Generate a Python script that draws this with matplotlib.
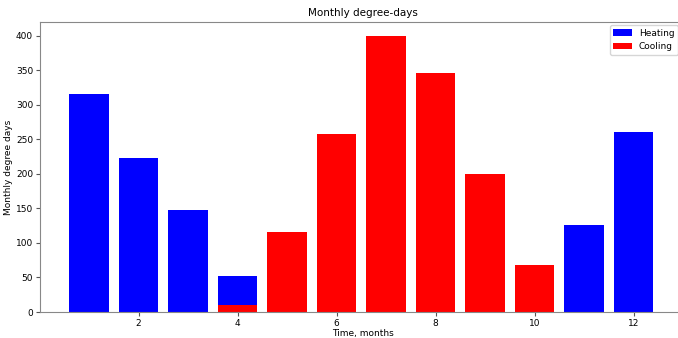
import matplotlib
matplotlib.use("Agg")
import matplotlib.pyplot as plt

months = list(range(1, 13))
heating = [316, 223, 148, 52, 0, 0, 0, 0, 0, 0, 126, 261]
cooling = [0, 0, 0, 10, 116, 258, 400, 346, 200, 68, 0, 0]

fig = plt.figure(figsize=(6.78, 3.38), dpi=100)
ax = fig.add_axes([40/678, 26/338, 646/678, 290/338])
ax.bar(months, heating, color="blue", label="Heating")
ax.bar(months, cooling, color="red", label="Cooling")
ax.set_xlim(0.01, 13.06)
ax.set_title("Monthly degree-days", fontsize=7.5, pad=4)
ax.set_xlabel("Time, months", fontsize=6.5, labelpad=1)
ax.set_ylabel("Monthly degree days", fontsize=6.5, labelpad=2)
ax.tick_params(labelsize=6.5, length=3, pad=2, color="#555555")
for s in ax.spines.values():
    s.set_color("#888888")
ax.legend(loc="upper right", bbox_to_anchor=(1.0, 1 - 25/338),
          bbox_transform=fig.transFigure, fontsize=6.5, borderaxespad=0.0)
fig.savefig("out.png", dpi=100)
